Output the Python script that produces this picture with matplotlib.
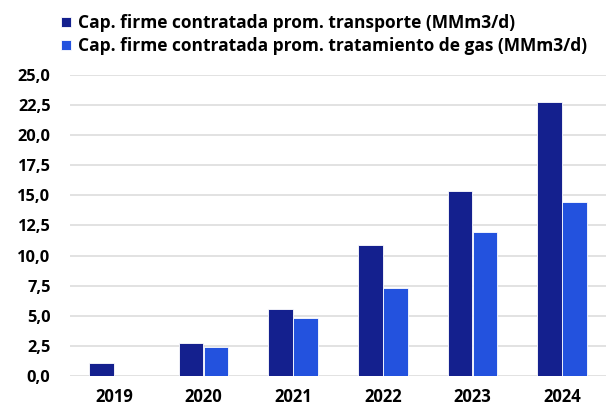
import matplotlib
matplotlib.use('Agg')
import matplotlib.pyplot as plt
import numpy as np

years = ['2019', '2020', '2021', '2022', '2023', '2024']
transporte = [1.1, 2.7, 5.6, 10.85, 15.35, 22.75]
tratamiento = [0.0, 2.45, 4.8, 7.3, 11.95, 14.45]
labels = ['Cap. firme contratada prom. transporte (MMm3/d)',
          'Cap. firme contratada prom. tratamiento de gas (MMm3/d)']
yticks = [0, 2.5, 5, 7.5, 10, 12.5, 15, 17.5, 20, 22.5, 25]

DARK = '#14208E'
LIGHT = '#2352DE'

plt.rcParams['font.family'] = ['Open Sans', 'DejaVu Sans']
plt.rcParams['font.weight'] = 'bold'

fig = plt.figure(figsize=(6.06, 4.08), dpi=100)
ax = fig.add_axes([70 / 606, 1 - 376 / 408, 536 / 606, 301 / 408])

x = np.arange(len(years))
w = 0.275
ax.bar(x - 0.14, transporte, w, color=DARK, edgecolor='white', linewidth=0.6,
       label=labels[0], zorder=3)
ax.bar(x + 0.14, tratamiento, w, color=LIGHT, edgecolor='white', linewidth=0.6,
       label=labels[1], zorder=3)

ax.set_xlim(-0.49, 5.49)
ax.set_ylim(0, 25)
ax.set_yticks(yticks)
ax.set_yticklabels([f'{v:.1f}'.replace('.', ',') for v in yticks],
                   fontweight='bold', fontsize=11.8)
ax.set_xticks(x)
ax.set_xticklabels(years, fontweight='bold', fontsize=12)
ax.tick_params(length=0, colors='black')
ax.tick_params(axis='y', pad=14)
ax.tick_params(axis='x', pad=9)
for s in ax.spines.values():
    s.set_visible(False)
ax.yaxis.grid(True, color='#dddddd', linewidth=1.2, zorder=0)

fig.legend(loc='upper left', bbox_to_anchor=(61 / 606, 1 - 14 / 408), frameon=False,
           prop={'size': 12.5, 'weight': 'bold'}, handlelength=0.55, handleheight=0.55,
           handletextpad=0.45, labelspacing=0.3, borderpad=0, borderaxespad=0)

fig.savefig('out.png', dpi=100)
